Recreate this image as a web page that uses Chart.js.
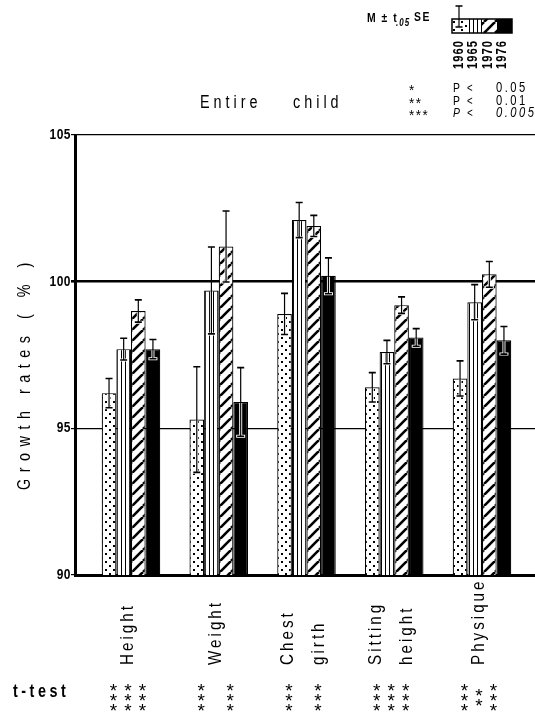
<!DOCTYPE html>
<html>
<head>
<meta charset="utf-8">
<script src="https://cdn.jsdelivr.net/npm/chart.js@4/dist/chart.umd.min.js"></script>
<style>
html, body { margin: 0; padding: 0; background: #fff; }
#wrap { width: 535px; height: 714px; position: relative; }
</style>
</head>
<body>
<div id="wrap"><canvas id="growthChart"></canvas></div>
<script>

/* ==========================================================
   DATA
========================================================== */

const categories = [["Height"], ["Weight"], ["Chest", "girth"], ["Sitting", "height"], ["Physique"]];
const years = ["1960", "1965", "1970", "1976"];

// mean growth rate (%)
const rate1960 = [96.2, 95.3, 98.9, 96.4, 96.7];
const rate1965 = [97.7, 99.7, 102.1, 97.6, 99.3];
const rate1970 = [99.0, 101.2, 101.9, 99.2, 100.25];
const rate1976 = [97.7, 95.9, 100.2, 98.1, 98.0];

// t.05 * SE
const ci1960 = [0.5, 1.8, 0.7, 0.5, 0.6];
const ci1965 = [0.37, 1.48, 0.6, 0.4, 0.6];
const ci1970 = [0.38, 1.21, 0.36, 0.28, 0.44];
const ci1976 = [0.33, 1.17, 0.61, 0.3, 0.47];

const yTicks = [90, 95, 100, 105];

// t-test marks, one column per comparison
const tTest = [
    ["***", "***", "***"],
    ["***", "", "***"],
    ["***", "", "***"],
    ["***", "***", "***"],
    ["***", "**", "***"]
];

const levels = [["*", "0.05"], ["**", "0.01"], ["***", "0.005"]];

const FONT = '"Liberation Sans", Arial, sans-serif';

/* ==========================================================
   FILL PATTERNS
========================================================== */

function makePattern(kind) {

    if (kind === "black") {
        return "#000";
    }

    const c = document.createElement("canvas");
    const g = c.getContext("2d");

    if (kind === "dots") {
        c.width = 8; c.height = 8;
        g.fillStyle = "#fff"; g.fillRect(0, 0, 8, 8);
        g.fillStyle = "#000";
        g.fillRect(1, 1, 2, 2);
        g.fillRect(5, 5, 2, 2);
    }

    if (kind === "stripes") {
        c.width = 4; c.height = 4;
        g.fillStyle = "#fff"; g.fillRect(0, 0, 4, 4);
        g.fillStyle = "#000";
        g.fillRect(1, 0, 1, 4);
    }

    if (kind === "hatch") {
        c.width = 11; c.height = 11;
        g.fillStyle = "#fff"; g.fillRect(0, 0, 11, 11);
        g.strokeStyle = "#000";
        g.lineWidth = 2.6;
        [-11, 0, 11].forEach(x0 => {
            g.beginPath();
            g.moveTo(x0, 11);
            g.lineTo(x0 + 11, 0);
            g.stroke();
        });
    }

    return g.createPattern(c, "repeat");
}

const fills = [makePattern("dots"), makePattern("stripes"), makePattern("hatch"), makePattern("black")];

/* ==========================================================
   HELPERS
========================================================== */

// condensed text: squeeze along the writing direction
function txt(ctx, s, x, y, o) {
    const sx = o.sx ?? 0.8;
    ctx.save();
    ctx.translate(x, y);
    if (o.rot) ctx.rotate(o.rot);
    ctx.scale(sx, 1);
    ctx.fillStyle = "#000";
    ctx.font = `${o.style || ""} ${o.weight || ""} ${o.size}px ${FONT}`;
    ctx.letterSpacing = ((o.spacing || 0) / sx) + "px";
    ctx.textAlign = o.align || "left";
    ctx.textBaseline = o.baseline || "alphabetic";
    ctx.fillText(s, 0, 0);
    ctx.restore();
}

function errorBar(ctx, x, top, bottom, barTop) {

    // white halo where the bar lies under the whisker
    ctx.strokeStyle = "#fff";
    ctx.lineWidth = 3;
    ctx.beginPath();
    ctx.moveTo(x, Math.max(top, barTop + 1));
    ctx.lineTo(x, bottom);
    ctx.moveTo(x - 4.5, bottom);
    ctx.lineTo(x + 4.5, bottom);
    if (top > barTop) {
        ctx.moveTo(x - 4.5, top);
        ctx.lineTo(x + 4.5, top);
    }
    ctx.stroke();

    ctx.strokeStyle = "#000";
    ctx.lineWidth = 1.2;
    ctx.beginPath();
    ctx.moveTo(x, top);
    ctx.lineTo(x, bottom);
    ctx.stroke();

    ctx.lineWidth = 1.6;
    ctx.beginPath();
    ctx.moveTo(x - 3.5, top);
    ctx.lineTo(x + 3.5, top);
    ctx.moveTo(x - 3.5, bottom);
    ctx.lineTo(x + 3.5, bottom);
    ctx.stroke();
}

/* ==========================================================
   ERROR BARS
========================================================== */

const errorBarPlugin = {

    id: "errorBars",

    afterDatasetsDraw(chart) {

        const { ctx, scales: { y } } = chart;

        ctx.save();

        chart.data.datasets.forEach((ds, di) => {

            chart.getDatasetMeta(di).data.forEach((bar, i) => {

                const v = ds.data[i].y;
                const e = ds.errors[i];

                errorBar(
                    ctx,
                    bar.x,
                    y.getPixelForValue(v + e),
                    y.getPixelForValue(v - e),
                    bar.y
                );

            });

        });

        ctx.restore();
    }
};

/* ==========================================================
   TEXTS: title, axis title, legend, labels, t-test
========================================================== */

const textPlugin = {

    id: "paperTexts",

    afterDraw(chart) {

        const { ctx, scales: { x, y } } = chart;
        const up = -Math.PI / 2;

        // title
        txt(ctx, "Entire", 200, 108, { size: 18, spacing: 4 });
        txt(ctx, "child", 293, 108, { size: 18, spacing: 4 });

        // y axis title
        txt(ctx, "Growth rates ( % )", 30, 373, { size: 18, spacing: 6.5, rot: up, align: "center" });

        // y tick labels
        yTicks.forEach(v => {
            txt(ctx, String(v), 71, y.getPixelForValue(v), {
                size: 15, weight: "bold", align: "right", baseline: "middle", spacing: 0.5
            });
        });

        // legend: M ± t.05 SE
        txt(ctx, "M \u00B1 t", 367, 22, { size: 13, weight: "bold", spacing: 1.5 });
        txt(ctx, ".05", 396, 26, { size: 10, weight: "bold", style: "italic", spacing: 1 });
        txt(ctx, "SE", 414, 21, { size: 13, weight: "bold", spacing: 1.5 });

        // legend swatches
        ctx.save();
        fills.forEach((f, i) => {
            ctx.fillStyle = f;
            ctx.fillRect(452 + 15 * i, 19, 15, 14);
        });
        ctx.strokeStyle = "#000";
        ctx.lineWidth = 1.5;
        ctx.strokeRect(452, 19, 60, 14);
        errorBar(ctx, 459, 6, 27, 19);
        ctx.restore();

        // legend years
        years.forEach((yr, i) => {
            txt(ctx, yr, 459 + 14.5 * i, 69, {
                size: 14, weight: "bold", spacing: 1, rot: up, baseline: "middle"
            });
        });

        // significance levels
        levels.forEach(([stars, p], i) => {
            const by = 92 + 12.5 * i;
            const st = i === 2 ? "italic" : "";
            txt(ctx, stars, 409, by + 3, { size: 15, sx: 0.9, spacing: 1.5 });
            txt(ctx, "P", 453, by, { size: 13, style: st });
            txt(ctx, "<", 467, by, { size: 12, style: st });
            txt(ctx, p, 496, by, { size: 14, spacing: 2.5, style: st });
        });

        // category labels, rotated
        categories.forEach((lines, i) => {
            const cx = x.getPixelForValue(i) - 3;
            lines.forEach((s, k) => {
                const lx = cx + (k - (lines.length - 1) / 2) * 31;
                txt(ctx, s, lx, 665, { size: 19, spacing: 3, rot: up, baseline: "middle" });
            });
        });

        // t-test row
        txt(ctx, "t-test", 13, 697, { size: 18, weight: "bold", spacing: 3.5 });

        tTest.forEach((cols, i) => {
            const cx = x.getPixelForValue(i) - 3;
            cols.forEach((s, k) => {
                const sx = cx + (k - 1) * 14.5;
                const off = (3 - s.length) / 2;
                for (let r = 0; r < s.length; r++) {
                    txt(ctx, "*", sx, 692 + (r + off) * 10, {
                        size: 19, sx: 1, align: "center", baseline: "middle"
                    });
                }
            });
        });
    }
};

/* ==========================================================
   CHART
========================================================== */

const series = [rate1960, rate1965, rate1970, rate1976];
const errors = [ci1960, ci1965, ci1970, ci1976];

const datasets = series.map((vals, k) => ({
    label: years[k],
    data: vals.map((v, i) => ({ x: i, y: v })),
    errors: errors[k],
    backgroundColor: fills[k],
    borderColor: "#000",
    borderWidth: 1.2,
    categoryPercentage: 0.667,
    barPercentage: 1
}));

new Chart(document.getElementById("growthChart"), {

    type: "bar",

    data: { datasets },

    plugins: [errorBarPlugin, textPlugin],

    options: {

        responsive: true,
        maintainAspectRatio: false,
        animation: false,

        layout: {
            padding: { top: 135, bottom: 139, left: 0, right: 0 }
        },

        plugins: {
            legend: { display: false },
            tooltip: { enabled: false }
        },

        scales: {

            x: {
                type: "linear",
                offset: false,
                min: -0.638,
                max: 4.604,
                afterBuildTicks(scale) {
                    scale.ticks = categories.map((c, i) => ({ value: i }));
                },
                grid: { display: false },
                ticks: { display: false },
                border: { display: true, color: "#000", width: 3 },
                afterFit(scale) { scale.height = 0; }
            },

            y: {
                min: 90,
                max: 105,
                afterBuildTicks(scale) {
                    scale.ticks = yTicks.map(v => ({ value: v }));
                },
                afterFit(scale) { scale.width = 75; },
                ticks: { display: false },
                grid: {
                    color: "#000",
                    tickLength: 4,
                    lineWidth: c => (c.tick && c.tick.value === 100 ? 2.6 : 1.2)
                },
                border: { display: true, color: "#000", width: 3 }
            }

        }
    }
});

</script>
</body>
</html>
